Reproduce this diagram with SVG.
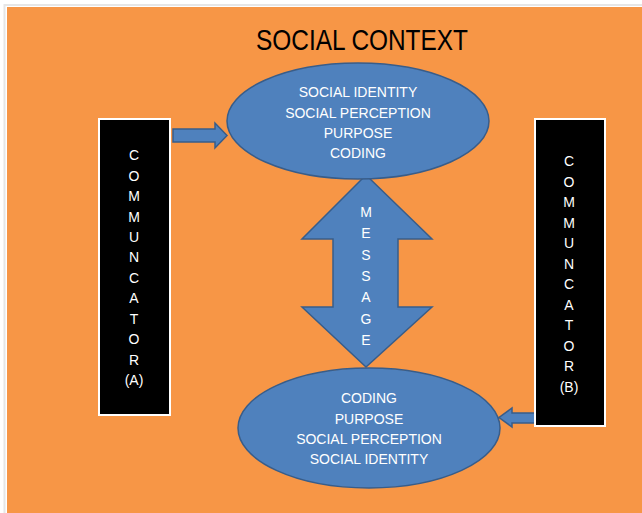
<svg xmlns="http://www.w3.org/2000/svg" width="642" height="513" viewBox="0 0 642 513">
<style>
.shape{fill:#4F81BD;stroke:#385D8A;stroke-width:1.5}
.box{fill:#000;stroke:#fff;stroke-width:2}
.t{font-family:"Liberation Sans",Arial,sans-serif;font-size:14px;fill:#fff;text-anchor:middle}
.title{font-family:"Liberation Sans",Arial,sans-serif;font-size:29px;fill:#000;text-anchor:middle}
</style>
<rect x="0" y="0" width="642" height="513" fill="#fff"/>
<rect x="4.5" y="5" width="640" height="510" fill="none" stroke="#e6e6e6" stroke-width="2"/>
<rect x="7" y="7" width="635" height="506" fill="#F79646"/>
<text class="title" x="362" y="50" textLength="212" lengthAdjust="spacingAndGlyphs">SOCIAL CONTEXT</text>
<g id="connectors">
<polygon class="shape" points="173,129 215,129 215,123 227,135.5 215,148 215,142 173,142"/>
<polygon class="shape" points="535,413 512,413 512,408 499,417.5 512,427 512,423 535,423"/>
</g>
<g id="message">
<polygon class="shape" points="366,175 432,239 398,239 398,307 432,307 366,367 302,307 333,307 333,239 302,239"/>
<text class="t"><tspan x="366" y="217">M</tspan><tspan x="366" y="238">E</tspan><tspan x="366" y="259.5">S</tspan><tspan x="366" y="281">S</tspan><tspan x="366" y="302">A</tspan><tspan x="366" y="323.5">G</tspan><tspan x="366" y="345">E</tspan></text>
</g>
<g id="top-ellipse">
<ellipse class="shape" cx="358" cy="121" rx="131" ry="58"/>
<text class="t"><tspan x="358" y="97">SOCIAL IDENTITY</tspan><tspan x="358" y="117.5">SOCIAL PERCEPTION</tspan><tspan x="358" y="137.5">PURPOSE</tspan><tspan x="358" y="157.5">CODING</tspan></text>
</g>
<g id="bottom-ellipse">
<ellipse class="shape" cx="369" cy="428" rx="131" ry="60"/>
<text class="t"><tspan x="369" y="403">CODING</tspan><tspan x="369" y="423.5">PURPOSE</tspan><tspan x="369" y="443.5">SOCIAL PERCEPTION</tspan><tspan x="369" y="464">SOCIAL IDENTITY</tspan></text>
</g>
<g id="communicator-a">
<rect class="box" x="99" y="119" width="71" height="296"/>
<text class="t"><tspan x="134" y="160">C</tspan><tspan x="134" y="180.5">O</tspan><tspan x="134" y="201">M</tspan><tspan x="134" y="221.5">M</tspan><tspan x="134" y="242">U</tspan><tspan x="134" y="262">N</tspan><tspan x="134" y="282.5">C</tspan><tspan x="134" y="303">A</tspan><tspan x="134" y="323.5">T</tspan><tspan x="134" y="344">O</tspan><tspan x="134" y="364.5">R</tspan><tspan x="134" y="385">(A)</tspan></text>
</g>
<g id="communicator-b">
<rect class="box" x="535" y="119" width="70" height="307"/>
<text class="t"><tspan x="569" y="166">C</tspan><tspan x="569" y="186.5">O</tspan><tspan x="569" y="207">M</tspan><tspan x="569" y="227.5">M</tspan><tspan x="569" y="248">U</tspan><tspan x="569" y="268.5">N</tspan><tspan x="569" y="289">C</tspan><tspan x="569" y="309.5">A</tspan><tspan x="569" y="330">T</tspan><tspan x="569" y="350.5">O</tspan><tspan x="569" y="371">R</tspan><tspan x="569" y="391.5">(B)</tspan></text>
</g>
</svg>
